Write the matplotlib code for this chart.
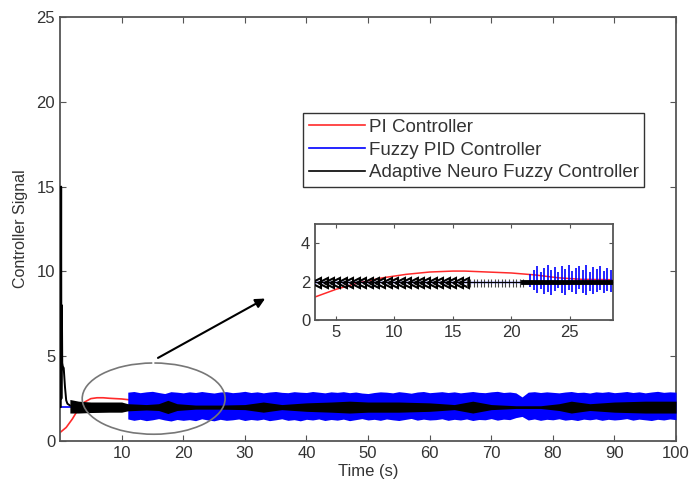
import numpy as np
import matplotlib
matplotlib.use("Agg")
import matplotlib.pyplot as plt
from matplotlib.patches import Arc

plt.rcParams['font.family'] = ['Liberation Sans', 'DejaVu Sans']

# PI controller (red)
pi_t = [0, 1, 2, 3, 4, 5, 6, 7, 8, 9, 10, 12, 15, 20, 30, 100]
pi_y = [0.5, 0.8, 1.3, 1.9, 2.3, 2.5, 2.55, 2.55, 2.52, 2.5, 2.48, 2.4, 2.3, 2.1, 2.0, 2.0]

# Fuzzy PID (blue): flat part, then oscillation envelope sampled every second
blue_flat_t = [0, 11]
blue_flat_y = [2.0, 2.0]
blue_band_t = np.arange(11, 101)
blue_upper = [2.88, 2.92, 2.85, 2.90, 2.93, 2.86, 2.80, 2.91, 2.88, 2.84,
              2.90, 2.86, 2.92, 2.87, 2.83, 2.89, 2.91, 2.85, 2.88, 2.93,
              2.86, 2.90, 2.84, 2.89, 2.92, 2.87, 2.85, 2.91, 2.88, 2.86,
              2.92, 2.88, 2.84, 2.90, 2.87, 2.91, 2.85, 2.89, 2.83, 2.80,
              2.86, 2.90, 2.88, 2.84, 2.91, 2.87, 2.82, 2.89, 2.92, 2.85,
              2.88, 2.91, 2.86, 2.90, 2.84, 2.88, 2.92, 2.87, 2.85, 2.90,
              2.93, 2.86, 2.89, 2.84, 2.60, 2.88, 2.91, 2.86, 2.90, 2.87,
              2.84, 2.89, 2.92, 2.86, 2.88, 2.83, 2.90, 2.87, 2.91, 2.85,
              2.88, 2.92, 2.86, 2.90, 2.84, 2.89, 2.93, 2.87, 2.90, 2.88]
blue_lower = [1.30, 1.22, 1.28, 1.20, 1.25, 1.32, 1.24, 1.18, 1.27, 1.22,
              1.26, 1.20, 1.31, 1.24, 1.19, 1.28, 1.22, 1.25, 1.30, 1.21,
              1.27, 1.23, 1.29, 1.20, 1.25, 1.31, 1.22, 1.26, 1.19, 1.28,
              1.24, 1.30, 1.21, 1.27, 1.23, 1.29, 1.20, 1.26, 1.32, 1.24,
              1.28, 1.22, 1.30, 1.25, 1.21, 1.27, 1.33, 1.23, 1.29, 1.24,
              1.26, 1.31, 1.22, 1.28, 1.24, 1.30, 1.21, 1.27, 1.25, 1.32,
              1.23, 1.29, 1.26, 1.38, 1.45, 1.24, 1.30, 1.22, 1.28, 1.25,
              1.31, 1.23, 1.27, 1.21, 1.29, 1.25, 1.30, 1.22, 1.28, 1.24,
              1.27, 1.32, 1.23, 1.29, 1.25, 1.21, 1.28, 1.24, 1.30, 1.26]

# Adaptive neuro fuzzy (black): start-up spike, then band envelope
anf_spike_t = [0, 0.12, 0.18, 0.22, 0.3, 0.36, 0.45, 0.6, 0.8, 1.0, 1.2, 1.6]
anf_spike_y = [2.0, 2.0, 15.0, 2.5, 8.0, 4.6, 4.4, 4.3, 3.2, 2.4, 2.2, 2.1]
anf_band_t = [1.6, 3, 5, 8, 10, 11, 14, 16, 17.5, 19, 22, 26, 30, 33, 36, 40,
              44, 47, 50, 55, 60, 64, 67, 70, 74, 78, 81, 83, 86, 90, 95, 100]
anf_upper = [2.45, 2.35, 2.3, 2.3, 2.3, 2.2, 2.15, 2.2, 2.4, 2.2, 2.12, 2.12, 2.15, 2.3, 2.15, 2.25,
             2.3, 2.35, 2.3, 2.3, 2.25, 2.15, 2.35, 2.15, 2.08, 2.08, 2.2, 2.35, 2.2, 2.3, 2.35, 2.35]
anf_lower = [1.65, 1.65, 1.68, 1.7, 1.7, 1.78, 1.83, 1.8, 1.62, 1.8, 1.88, 1.88, 1.85, 1.7, 1.85, 1.75,
             1.7, 1.65, 1.7, 1.7, 1.75, 1.85, 1.65, 1.85, 1.92, 1.92, 1.8, 1.65, 1.8, 1.7, 1.65, 1.65]

# inset (zoomed view)
inset_pi_t = [3.2, 5, 7, 9, 11, 13, 15, 16, 18, 20, 22, 24, 26, 28.7]
inset_pi_y = [1.2, 1.6, 1.95, 2.2, 2.38, 2.5, 2.55, 2.55, 2.5, 2.45, 2.35, 2.2, 2.12, 2.1]
inset_blue_flat_t = [3.2, 21.5]
inset_blue_t = np.arange(21.6, 28.7, 0.3)
inset_blue_hi = [2.4, 2.6, 2.8, 2.5, 2.7, 2.85, 2.6, 2.75, 2.5, 2.8, 2.65, 2.85,
                 2.55, 2.7, 2.8, 2.6, 2.85, 2.5, 2.75, 2.65, 2.8, 2.55, 2.7, 2.6]
inset_blue_lo = [1.7, 1.55, 1.4, 1.6, 1.35, 1.45, 1.3, 1.5, 1.65, 1.4, 1.3, 1.55,
                 1.45, 1.35, 1.6, 1.4, 1.3, 1.5, 1.35, 1.45, 1.55, 1.4, 1.5, 1.45]
inset_anf_tri_t = np.arange(3.3, 16.2, 0.55)
inset_anf_tick_t = np.arange(16.2, 21.2, 0.3)
inset_anf_band_t = [21.0, 28.7]

red = '#ff2a2a'
blue = '#0000ff'
grey_txt = '#333333'
spine_c = '#555555'

fig = plt.figure(figsize=(6.94, 4.84), dpi=100)
ax = fig.add_axes([0.0865, 0.0888, 0.8876, 0.876])

ax.plot(pi_t, pi_y, color=red, lw=1.2, label='PI Controller', zorder=2)
ax.plot(blue_flat_t, blue_flat_y, color=blue, lw=1.2, label='Fuzzy PID Controller', zorder=3)
ax.fill_between(blue_band_t, blue_lower, blue_upper, color=blue, lw=0, zorder=3)
ax.fill_between(anf_band_t, anf_lower, anf_upper, color='black', lw=0, zorder=4)
ax.plot(anf_spike_t, anf_spike_y, color='black', lw=1.4, zorder=4,
        label='Adaptive Neuro Fuzzy Controller')

ax.set_xlim(0, 100)
ax.set_ylim(0, 25)
ax.set_xticks(range(10, 101, 10))
ax.set_yticks(range(0, 26, 5))
ax.tick_params(direction='in', top=True, right=True, labelsize=12,
               labelcolor=grey_txt, color=spine_c, length=4)
for s in ax.spines.values():
    s.set_color(spine_c)
    s.set_linewidth(1.3)
ax.set_xlabel('Time (s)', fontsize=12, color=grey_txt, labelpad=2)
ax.set_ylabel('Controller Signal', fontsize=11.5, color=grey_txt, labelpad=6)

# ellipse with small gap where the arrow starts
ax.add_patch(Arc((15.2, 2.5), 23.2, 4.2, theta1=96, theta2=447,
                 color='#777777', lw=1.2, zorder=5))
ax.annotate('', xy=(33.3, 8.4), xytext=(15.9, 4.9),
            arrowprops=dict(arrowstyle='-|>', color='black', lw=1.5,
                            mutation_scale=14, shrinkA=0, shrinkB=0))

leg = ax.legend(loc='upper left', bbox_to_anchor=(0.3945, 0.7736), fontsize=13.5,
                frameon=True, fancybox=False, handlelength=3.0, handletextpad=0.2,
                borderpad=0.3, labelspacing=0.3, borderaxespad=0)
leg.get_frame().set_edgecolor('black')
leg.get_frame().set_linewidth(1.0)
for t in leg.get_texts():
    t.set_color(grey_txt)
for h in leg.get_lines():
    h.set_linewidth(1.2)

# inset
ins = fig.add_axes([0.4539, 0.3388, 0.4294, 0.1983])
ins.plot(inset_pi_t, inset_pi_y, color=red, lw=1.1, zorder=2)
ins.plot(inset_blue_flat_t, [2.0, 2.0], color=blue, lw=1.0, zorder=3)
ins.vlines(inset_blue_t, inset_blue_lo, inset_blue_hi, color=blue, lw=1.2, zorder=3)
ins.plot(inset_anf_tri_t, np.full(len(inset_anf_tri_t), 1.95), ls='none', marker='<',
         ms=7, mfc='none', mew=1.5, color='black', zorder=4)
ins.plot(inset_anf_tick_t, np.full(len(inset_anf_tick_t), 1.95), ls='none', marker='|',
         ms=6, mew=0.8, color='#444444', zorder=4)
ins.plot(inset_anf_band_t, [1.98, 1.98], color='black', lw=3.5, zorder=4)
ins.plot([3.2, 28.7], [1.98, 1.98], color='black', lw=0.8, zorder=4)
ins.set_xlim(3.2, 28.7)
ins.set_ylim(0, 5)
ins.set_xticks([5, 10, 15, 20, 25])
ins.set_yticks([0, 2, 4])
ins.tick_params(direction='in', top=True, right=True, labelsize=12,
                labelcolor=grey_txt, color=spine_c, length=3)
for s in ins.spines.values():
    s.set_color(spine_c)
    s.set_linewidth(1.3)

fig.savefig('out.png', dpi=100)
